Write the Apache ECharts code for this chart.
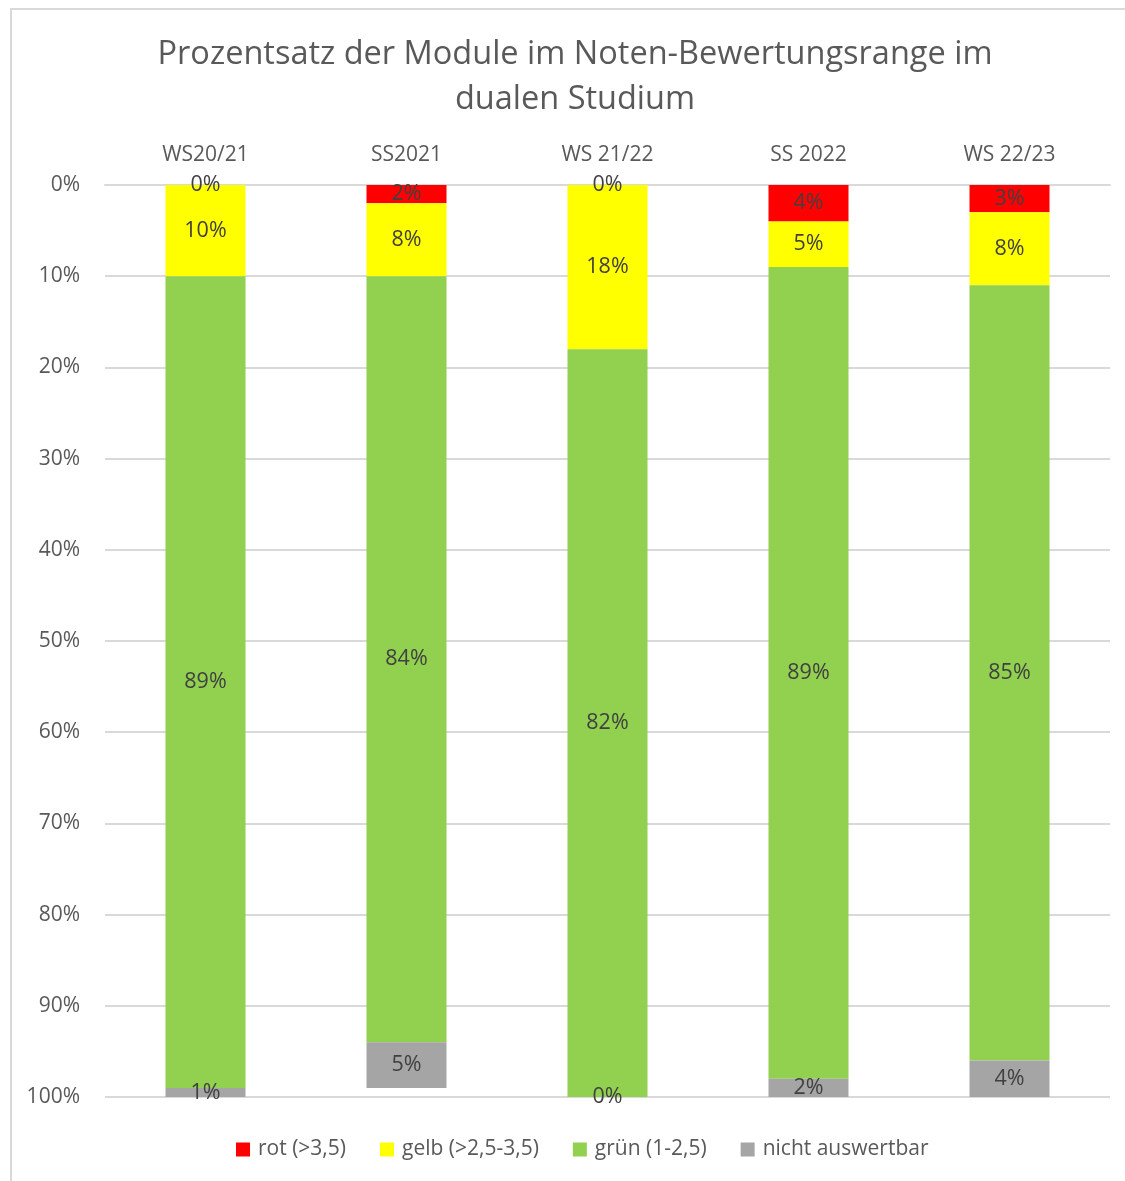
<!DOCTYPE html>
<html>
<head>
<meta charset="utf-8">
<script src="https://cdn.jsdelivr.net/npm/echarts@6/dist/echarts.min.js"></script>
<style>
  html, body { margin: 0; padding: 0; background: #fff; overflow: hidden; }
  #frame {
    position: absolute; left: 10px; top: 8px; width: 1200px; height: 1300px;
    border: 2px solid #d9d9d9; box-sizing: border-box;
  }
  #chart { position: absolute; left: 0; top: 0; width: 1125px; height: 1181px; }
</style>
</head>
<body>
<div id="frame"></div>
<div id="chart"></div>
<script>
const semesters = ['WS20/21', 'SS2021', 'WS 21/22', 'SS 2022', 'WS 22/23']
const rot = [0, 2, 0, 4, 3]
const gelb = [10, 8, 18, 5, 8]
const gruen = [89, 84, 82, 89, 85]
const nichtAuswertbar = [1, 5, 0, 2, 4]

const font = '"Open Sans", Lato, sans-serif'
const labelStyle = {
  show: true,
  position: 'inside',
  formatter: (p) => p.value + '%',
  fontSize: 21.5,
  fontFamily: font,
  color: '#404040',
}

function barSeries(name, data, color) {
  return {
    type: 'bar',
    name,
    stack: 'total',
    data,
    barWidth: 80,
    itemStyle: { color },
    label: labelStyle,
  }
}

const chart = echarts.init(document.getElementById('chart'))
chart.setOption({
  animation: false,
  title: {
    text: 'Prozentsatz der Module im Noten-Bewertungsrange im\ndualen Studium',
    left: 570,
    top: 27,
    textAlign: 'center',
    textStyle: { fontSize: 32.5, fontWeight: 'normal', color: '#595959', fontFamily: font, lineHeight: 45 },
  },
  legend: {
    bottom: 16,
    left: 231,
    itemWidth: 14,
    itemHeight: 14,
    itemGap: 34,
    icon: 'rect',
    textStyle: { fontSize: 21, color: '#595959', fontFamily: font, padding: [0, 0, 0, 3] },
  },
  grid: { left: 105, right: 15, top: 185, bottom: 84 },
  xAxis: {
    type: 'category',
    position: 'top',
    data: semesters,
    axisLine: { lineStyle: { color: '#d9d9d9', width: 2 } },
    axisTick: { show: false },
    axisLabel: { fontSize: 21, color: '#595959', fontFamily: font, margin: 19 },
  },
  yAxis: {
    type: 'value',
    inverse: true,
    min: 0,
    max: 100,
    interval: 10,
    axisLine: { show: false },
    axisTick: { show: false },
    splitLine: { lineStyle: { color: '#d9d9d9', width: 2 } },
    axisLabel: { fontSize: 21, color: '#595959', fontFamily: font, margin: 25, formatter: '{value}%' },
  },
  series: [
    barSeries('rot (>3,5)', rot, '#ff0000'),
    barSeries('gelb (>2,5-3,5)', gelb, '#ffff00'),
    barSeries('grün (1-2,5)', gruen, '#92d050'),
    barSeries('nicht auswertbar', nichtAuswertbar, '#a5a5a5'),
  ],
})
</script>
</body>
</html>
